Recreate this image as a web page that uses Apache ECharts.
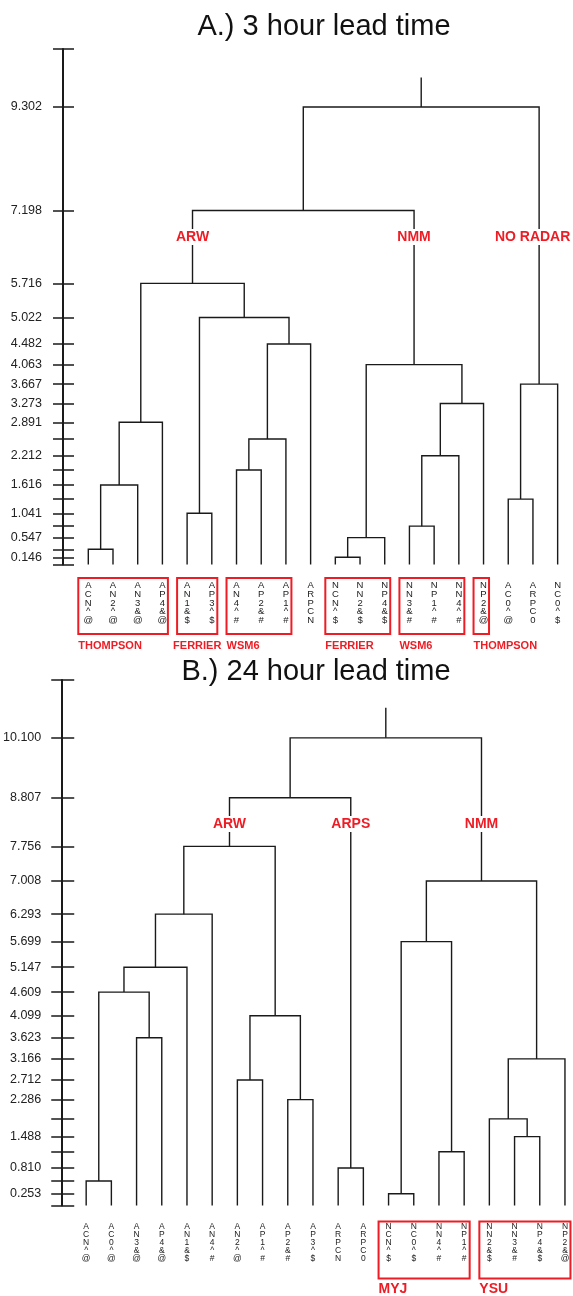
<!DOCTYPE html>
<html>
<head>
<meta charset="utf-8">
<script src="https://cdn.jsdelivr.net/npm/echarts@6/dist/echarts.min.js"></script>
<style>
html, body { margin: 0; padding: 0; background: #fff; }
#chart { width: 573px; height: 1296px; }
</style>
</head>
<body>
<div id="chart"></div>
<script>
// A.) 3 hour lead time
const leavesA = ['ACN^@', 'AN2^@', 'AN3&@', 'AP4&@', 'AN1&$', 'AP3^$', 'AN4^#', 'AP2&#', 'AP1^#', 'ARPCN',
  'NCN^$', 'NN2&$', 'NP4&$', 'NN3&#', 'NP1^#', 'NN4^#', 'NP2&@', 'AC0^@', 'ARPC0', 'NC0^$']
// [left, right, height]  (index >= 20 means an earlier merge)
const mergesA = [[0, 1, 0.31], [20, 2, 1.616], [21, 3, 2.891], [4, 5, 1.041], [6, 7, 1.92], [24, 8, 2.55],
  [25, 9, 4.482], [23, 26, 5.022], [22, 27, 5.716], [10, 11, 0.146], [29, 12, 0.547], [13, 14, 0.78],
  [31, 15, 2.212], [32, 16, 3.273], [30, 33, 4.063], [17, 18, 1.33], [35, 19, 3.667], [28, 34, 7.198],
  [37, 36, 9.302]]
const rootA = 9.9
const axisMaxA = 10.48
const tickLabelsA = [9.302, 7.198, 5.716, 5.022, 4.482, 4.063, 3.667, 3.273, 2.891, 2.212, 1.616, 1.041, 0.547, 0.146]
const groupsA = [['THOMPSON', 0, 3], ['FERRIER', 4, 5], ['WSM6', 6, 8], ['FERRIER', 10, 12], ['WSM6', 13, 15], ['THOMPSON', 16, 16]]
const clustersA = [['ARW', 28], ['NMM', 34], ['NO RADAR', 36]]

// B.) 24 hour lead time
const leavesB = ['ACN^@', 'AC0^@', 'AN3&@', 'AP4&@', 'AN1&$', 'AN4^#', 'AN2^@', 'AP1^#', 'AP2&#', 'AP3^$',
  'ARPCN', 'ARPC0', 'NCN^$', 'NC0^$', 'NN4^#', 'NP1^#', 'NN2&$', 'NN3&#', 'NP4&$', 'NP2&@']
const mergesB = [[0, 1, 0.53], [2, 3, 3.623], [20, 21, 4.609], [22, 4, 5.147], [23, 5, 6.293], [6, 7, 2.712],
  [8, 9, 2.286], [25, 26, 4.099], [24, 27, 7.756], [10, 11, 0.810], [28, 29, 8.807], [12, 13, 0.253],
  [14, 15, 1.16], [31, 32, 5.699], [17, 18, 1.488], [16, 34, 1.87], [35, 19, 3.166], [33, 36, 7.008],
  [30, 37, 10.100]]
const rootB = 10.75
const axisMaxB = 11.35
const tickLabelsB = [10.100, 8.807, 7.756, 7.008, 6.293, 5.699, 5.147, 4.609, 4.099, 3.623, 3.166, 2.712, 2.286, 1.488, 0.810, 0.253]
const groupsB = [['MYJ', 12, 15], ['YSU', 16, 19]]
const clustersB = [['ARW', 28], ['ARPS', 29], ['NMM', 37]]

const FONT = "'Liberation Sans', Arial, sans-serif"
const RED = '#ee1c24'
const INK = '#1a1a1a'

// link list + node positions (leaf index space) from the merge table
const buildTree = (leaves, merges, rootH) => {
  const pos = leaves.map((_, i) => i)
  const hgt = leaves.map(() => 0)
  const links = []
  merges.forEach(([a, b, h]) => {
    links.push([pos[a], hgt[a], pos[b], hgt[b], h])
    pos.push((pos[a] + pos[b]) / 2)
    hgt.push(h)
  })
  const last = pos.length - 1
  links.push([pos[last], hgt[last], pos[last], hgt[last], rootH])
  return { links, pos }
}

const treeA = buildTree(leavesA, mergesA, rootA)
const treeB = buildTree(leavesB, mergesB, rootB)

const panel = (idx, leaves, merges, tree, axisMax, tickLabels, groups, clusters, cfg) => {
  const allTicks = [0, ...merges.map(m => m[2]), axisMax]
  const yBase = {
    gridIndex: idx, type: 'value', min: 0, max: axisMax, position: 'left',
    splitLine: { show: false }
  }
  const yAxes = [
    Object.assign({}, yBase, {
      axisLine: { show: true, onZero: false, lineStyle: { color: INK, width: 2 } },
      axisTick: { show: true, customValues: allTicks, length: cfg.tickLen, lineStyle: { color: INK, width: 1.5 } },
      axisLabel: {
        customValues: tickLabels, formatter: v => v.toFixed(3), margin: cfg.labelMargin,
        color: '#222', fontSize: 12.5, fontFamily: FONT
      }
    }),
    Object.assign({}, yBase, {
      axisLine: { show: false, onZero: false },
      axisTick: { show: true, inside: true, customValues: allTicks, length: cfg.tickLen + 1, lineStyle: { color: INK, width: 1.5 } },
      axisLabel: { show: false }
    })
  ]
  const xAxis = {
    gridIndex: idx, type: 'value', min: cfg.xMin, max: cfg.xMax,
    axisLine: { show: false, onZero: false }, axisTick: { show: false }, splitLine: { show: false },
    axisLabel: {
      customValues: leaves.map((_, i) => i),
      formatter: v => leaves[Math.round(v)].split('').join('\n'),
      fontSize: cfg.leafFont, lineHeight: cfg.leafLine, margin: cfg.leafMargin,
      color: '#222', fontFamily: FONT
    }
  }
  const series = [
    {
      type: 'custom', xAxisIndex: idx, yAxisIndex: idx * 2, clip: false,
      data: tree.links,
      encode: { x: [0, 2], y: [1, 3, 4] },
      renderItem: (params, api) => {
        const p1 = api.coord([api.value(0), api.value(1)])
        const p2 = api.coord([api.value(0), api.value(4)])
        const p3 = api.coord([api.value(2), api.value(4)])
        const p4 = api.coord([api.value(2), api.value(3)])
        return {
          type: 'polyline',
          shape: { points: [p1, p2, p3, p4] },
          style: { stroke: INK, lineWidth: 1.4, fill: null }
        }
      }
    },
    {
      type: 'custom', xAxisIndex: idx, yAxisIndex: idx * 2, clip: false, z: 5,
      data: groups.map(g => [g[1], g[2]]),
      renderItem: (params, api) => {
        const a = api.coord([api.value(0), 0])
        const b = api.coord([api.value(1), 0])
        const x0 = a[0] - 10
        return {
          type: 'group',
          children: [
            {
              type: 'rect',
              shape: { x: x0, y: a[1] + cfg.boxTop, width: b[0] - a[0] + 15.5, height: cfg.boxH },
              style: { stroke: RED, lineWidth: 2, fill: null }
            },
            {
              type: 'text',
              style: {
                text: groups[params.dataIndex][0], x: x0 + (cfg.groupShift[params.dataIndex] || 0), y: a[1] + cfg.groupY,
                fill: RED, font: 'bold ' + cfg.groupFont + 'px ' + FONT,
                textAlign: 'left', textVerticalAlign: 'middle'
              }
            }
          ]
        }
      }
    },
    {
      type: 'custom', xAxisIndex: idx, yAxisIndex: idx * 2, clip: false, z: 6,
      data: clusters.map(c => [tree.pos[c[1]], cfg.clusterH]),
      renderItem: (params, api) => {
        const p = api.coord([api.value(0), api.value(1)])
        const name = clusters[params.dataIndex][0]
        const half = name.length * 4.8
        const x = Math.min(p[0], 571 - half)
        return {
          type: 'text',
          style: {
            text: name, x: x, y: p[1],
            fill: RED, font: 'bold ' + cfg.clusterFont + 'px ' + FONT,
            textAlign: 'center', textVerticalAlign: 'middle',
            backgroundColor: '#fff', padding: [1, 2]
          }
        }
      }
    }
  ]
  return { yAxes, xAxis, series }
}

const pA = panel(0, leavesA, mergesA, treeA, axisMaxA, tickLabelsA, groupsA, clustersA, {
  xMin: -1.024, xMax: 19.5, tickLen: 10, labelMargin: 21,
  leafFont: 9.5, leafLine: 8.7, leafMargin: 16.8, boxTop: 13.5, boxH: 56, groupY: 81.5, groupFont: 11,
  groupShift: [0, -4, 0, 0, 0, 0], clusterH: 6.66, clusterFont: 14
})
const pB = panel(1, leavesB, mergesB, treeB, axisMaxB, tickLabelsB, groupsB, clustersB, {
  xMin: -0.95, xMax: 19.2, tickLen: 11, labelMargin: 21,
  leafFont: 8.5, leafLine: 7.9, leafMargin: 17.2, boxTop: 16, boxH: 57, groupY: 84, groupFont: 14,
  groupShift: [0, 0], clusterH: 8.24, clusterFont: 14
})

const chart = echarts.init(document.getElementById('chart'))
chart.setOption({
  backgroundColor: '#fff',
  animation: false,
  graphic: [
    { type: 'text', style: { text: 'A.) 3 hour lead time', x: 324, y: 12, font: '29px ' + FONT, fill: '#111', textAlign: 'center', textVerticalAlign: 'top' } },
    { type: 'text', style: { text: 'B.) 24 hour lead time', x: 316, y: 657.5, font: '29px ' + FONT, fill: '#111', textAlign: 'center', textVerticalAlign: 'top' } }
  ],
  grid: [
    { left: 63, top: 49, width: 507, height: 515.5 },
    { left: 61, top: 680, width: 509, height: 525.5 }
  ],
  xAxis: [pA.xAxis, pB.xAxis],
  yAxis: [...pA.yAxes, ...pB.yAxes],
  series: [...pA.series, ...pB.series]
})
</script>
</body>
</html>
